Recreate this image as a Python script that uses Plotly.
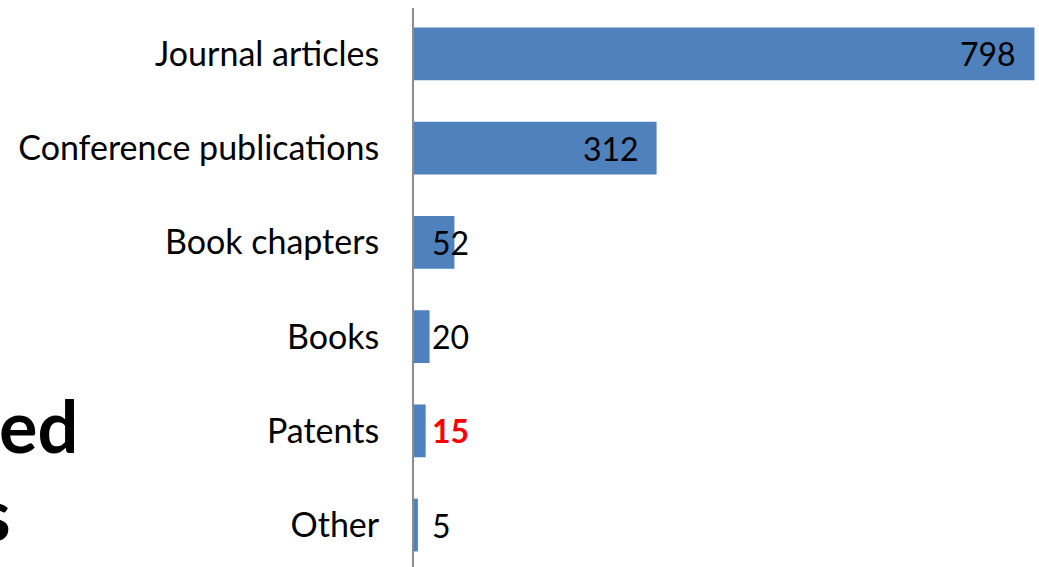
import plotly.graph_objects as go

categories = ["Journal articles", "Conference publications", "Book chapters", "Books", "Patents", "Other"]
values = [798, 312, 52, 20, 15, 5]
label_colors = ["#000000", "#000000", "#000000", "#000000", "#FF0000", "#000000"]
label_bold = [False, False, False, False, True, False]

FONT = "Lato"
fig = go.Figure()
fig.add_trace(go.Bar(
    x=values, y=categories, orientation="h",
    marker=dict(color="#4F81BD", line=dict(width=0)),
    hoverinfo="skip",
))

annotations = []
for cat, v, c, b in zip(categories, values, label_colors, label_bold):
    txt = f"<b>{v}</b>" if b else str(v)
    if v > 100:
        annotations.append(dict(x=v, y=cat, xref="x", yref="y", text=txt, showarrow=False,
                                xanchor="right", xshift=-16, yshift=0,
                                font=dict(family=FONT, size=32, color=c)))
    else:
        annotations.append(dict(x=0, y=cat, xref="x", yref="y", text=txt, showarrow=False,
                                xanchor="left", xshift=16, yshift=0,
                                font=dict(family=FONT, size=32, color=c)))

# clipped slide title fragments on the left
annotations.append(dict(x=-334 / 622, y=1 - 417 / 559, xref="paper", yref="paper", text="<b>ed</b>",
                        showarrow=False, xanchor="right", yanchor="middle",
                        font=dict(family=FONT, size=72, color="#000000")))
annotations.append(dict(x=-401 / 622, y=1 - 505 / 559, xref="paper", yref="paper", text="<b>s</b>",
                        showarrow=False, xanchor="right", yanchor="middle",
                        font=dict(family=FONT, size=72, color="#000000")))

fig.update_layout(
    width=1039, height=567,
    margin=dict(l=414, r=3, t=8, b=0, pad=0),
    paper_bgcolor="white", plot_bgcolor="white",
    showlegend=False, bargap=0.44,
    annotations=annotations,
    font=dict(family=FONT, size=34, color="#000000"),
)
fig.update_xaxes(range=[0, 800], visible=False, showgrid=False, zeroline=False)
fig.update_yaxes(
    type="category", categoryorder="array", categoryarray=categories,
    range=[5.445, -0.488], showgrid=False, zeroline=False,
    showline=True, linecolor="#8C8C8C", linewidth=2,
    ticks="", ticklabelstandoff=26,
    tickfont=dict(family=FONT, size=34, color="#000000"),
)
fig.write_html("out.html", config={"displayModeBar": False},
               post_script="document.body.style.margin='0';document.body.style.overflow='hidden';")
